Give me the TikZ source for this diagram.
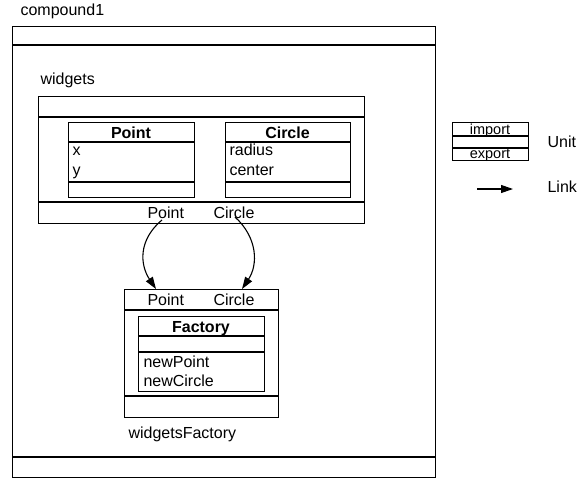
\documentclass[tikz,border=0pt]{standalone}
\usepackage{fontspec}
\setmainfont{Liberation Sans}
\usetikzlibrary{arrows.meta}
\begin{document}
\begin{tikzpicture}[x=1pt,y=-1pt,line width=1.1pt,
  lbl/.style={inner sep=0pt,anchor=base west,font=\fontsize{16}{19}\selectfont},
  hdr/.style={inner sep=0pt,anchor=base,font=\fontsize{16}{19}\selectfont\bfseries},
  small/.style={inner sep=0pt,anchor=base,font=\fontsize{14.5}{17}\selectfont},
  rect/.style={draw,inner sep=0pt,anchor=north west,line width=1.1pt},
  link/.style={-{Triangle[length=12pt,width=8pt]},line width=1.1pt}]
\useasboundingbox (0,0) rectangle (579,479);
% compound1
\node[lbl] (cLbl) at (20,16) {compound1};
\node[rect,minimum width=423pt,minimum height=451pt] (compound) at (12,26) {};
\draw (12,45) -- (435,45);
\draw (12,457) -- (435,457);
% widgets
\node[lbl] (wLbl) at (40,84) {widgets};
\node[rect,minimum width=326pt,minimum height=127pt] (widgets) at (38,96) {};
\draw (38,117) -- (364,117);
\draw (38,202) -- (364,202);
% Point class
\node[rect,minimum width=126pt,minimum height=75pt] (pointCls) at (68,122) {};
\draw (68,142) -- (194,142);
\draw (68,182) -- (194,182);
\node[hdr] (pointHdr) at (131,138) {Point};
\node[lbl] (px) at (72,155) {x};
\node[lbl] (py) at (72,175) {y};
% Circle class
\node[rect,minimum width=125pt,minimum height=75pt] (circleCls) at (225,122) {};
\draw (225,142) -- (350,142);
\draw (225,182) -- (350,182);
\node[hdr] (circleHdr) at (287.5,138) {Circle};
\node[lbl] (cr) at (229,155) {radius};
\node[lbl] (cc) at (229,175) {center};
% widgets exports
\node[lbl] (wPoint) at (147,218) {Point};
\node[lbl] (wCircle) at (213,218) {Circle};
% widgetsFactory
\node[rect,minimum width=154pt,minimum height=128pt] (factoryUnit) at (124,289) {};
\draw (124,310) -- (278,310);
\draw (124,396) -- (278,396);
\node[lbl] (fPoint) at (147,305) {Point};
\node[lbl] (fCircle) at (213,305) {Circle};
\node[rect,minimum width=126pt,minimum height=75pt] (factoryCls) at (138,316) {};
\draw (138,336) -- (264,336);
\draw (138,352) -- (264,352);
\node[hdr] (factoryHdr) at (201,332) {Factory};
\node[lbl] (fnp) at (143,367) {newPoint};
\node[lbl] (fnc) at (143,386) {newCircle};
\node[lbl] (fLbl) at (128,438) {widgetsFactory};
% links
\coordinate (wPointOut) at (162,220);
\coordinate (wCircleOut) at (235,217);
\coordinate (fPointIn) at (156,289);
\coordinate (fCircleIn) at (242,289);
\draw[link] (wPointOut) .. controls (138,240) and (140,265) .. (fPointIn);
\draw[link] (wCircleOut) .. controls (258,238) and (258,265) .. (fCircleIn);
% legend
\node[rect,minimum width=76pt,minimum height=38pt] (legUnit) at (452,122) {};
\draw (452,136) -- (528,136);
\draw (452,148) -- (528,148);
\node[small] (legImp) at (490,134) {import};
\node[small] (legExp) at (490,158) {export};
\node[lbl] (unitLbl) at (547,147) {Unit};
\coordinate (legA) at (477,189);
\coordinate (legB) at (513,189);
\draw[link] (legA) -- (legB);
\node[lbl] (linkLbl) at (547,192) {Link};
\end{tikzpicture}
\end{document}
